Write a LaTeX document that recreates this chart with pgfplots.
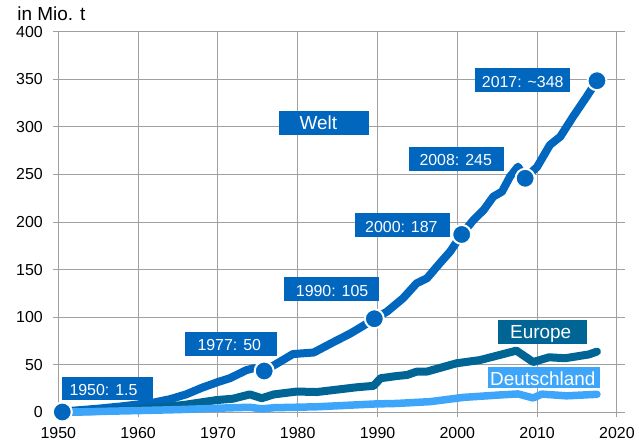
\documentclass[border=0pt]{standalone}
\usepackage{fontspec}
\setmainfont{Liberation Sans}
\usepackage{pgfplots}
\pgfplotsset{compat=1.18}
\definecolor{welt}{RGB}{0,102,190}
\definecolor{europe}{RGB}{0,101,148}
\definecolor{de}{RGB}{62,166,250}
\definecolor{gridc}{RGB}{160,160,160}
\begin{document}
\begin{tikzpicture}[x=1bp,y=1bp]
\path[use as bounding box] (0,0) rectangle (639,443);
\begin{axis}[
  at={(58.3bp,30.5bp)}, anchor=south west,
  width=566.6bp, height=380.8bp, scale only axis,
  xmin=1950, xmax=2021, ymin=0, ymax=400,
  xtick={1950,1960,...,2020}, ytick={0,50,...,400},
  grid=major, major grid style={gridc, line width=1.1bp},
  axis lines=left, axis line style={-, gridc, line width=1.1bp},
  tick align=outside, major tick length=5bp,
  tick style={gridc, line width=1.1bp},
  /pgf/number format/1000 sep={},
  /pgf/number format/assume math mode=true,
  ticklabel style={font=\fontsize{16}{18}\selectfont, text=black},
  yticklabel style={xshift=-7bp},
  xticklabel style={yshift=-6bp},
  clip=false,
]
\addplot[welt, line width=8bp, line cap=round, line join=round] coordinates {
(1950.5,1) (1955,4) (1958,6.5) (1960,8.5) (1962,10.5) (1964,14) (1966,19)
(1968,26) (1970,32) (1971.5,36) (1973.6,44.6) (1974.5,46.5) (1975.8,43.6)
(1977.8,53.4) (1979.4,61.4) (1982,63) (1984.5,74) (1986.6,83) (1988.2,91)
(1989.6,98.5) (1991.2,106) (1993.2,120) (1994.9,135.7) (1996.2,141)
(1997.8,156.7) (1999.1,169) (2000.55,187) (2002,202) (2003.3,212.7)
(2004.5,226.7) (2005.6,232) (2006.6,247.7) (2007.6,258.2) (2008.5,246)
(2010,258) (2011.6,281) (2012.9,289.7) (2014.5,310.7) (2016.2,331.7) (2017.5,348.5)
};
\addplot[europe, line width=8bp, line cap=round, line join=round] coordinates {
(1950.5,0.5) (1955,1.5) (1960,3.5) (1965.7,7.9) (1969.8,13) (1971.9,14.5)
(1974,19) (1975.5,15) (1977,19) (1979.9,22) (1982.4,21.5) (1984.9,24)
(1987.4,26.5) (1989.5,28) (1990.4,36) (1992.4,38.3) (1993.7,39.4)
(1994.9,42.9) (1996.2,43) (1999.9,51.7) (2002.8,55) (2005.3,60.4)
(2007.4,65) (2009.5,53) (2011.5,58) (2013.5,57) (2015,59) (2016.5,61) (2017.5,64)
};
\addplot[de, line width=7.5bp, line cap=round, line join=round] coordinates {
(1950.5,0.3) (1960,2) (1965,3) (1970,4.5) (1974,5.5) (1975.5,3.8) (1977,5)
(1982.4,6) (1989.5,8.9) (1992.4,9.5) (1996.6,11.4) (2000.8,15.9)
(2005.3,18.4) (2007.6,19.5) (2009.5,15.3) (2010.6,19.3) (2013.7,17.5) (2017.5,19.1)
};
\addplot[only marks, mark=*, mark size=9.5bp,
  mark options={fill=welt, draw=white, line width=2bp}] coordinates {
(1950.5,0.5) (1975.8,43.6) (1989.6,98.5) (2000.55,187) (2008.5,246) (2017.5,348.5)
};
\end{axis}
\node[anchor=base west, inner sep=0, font=\fontsize{19}{22}\selectfont] at (17.3,422.3) {in Mio. t};
% labels
\fill[welt] (61.7,43) rectangle (152.7,66.3);
\node[anchor=base west, inner sep=0, text=white, font=\fontsize{16}{18}\selectfont] at (69.3,47.4) {1950: 1.5};
\fill[welt] (185,87.3) rectangle (276.7,111.3);
\node[anchor=base west, inner sep=0, text=white, font=\fontsize{16}{18}\selectfont] at (197.3,92.1) {1977: 50};
\fill[welt] (284,142.3) rectangle (379,165.7);
\node[anchor=base west, inner sep=0, text=white, font=\fontsize{16}{18}\selectfont] at (295.7,146.8) {1990: 105};
\fill[welt] (355,206.3) rectangle (450,229.7);
\node[anchor=base west, inner sep=0, text=white, font=\fontsize{16}{18}\selectfont] at (365,210.8) {2000: 187};
\fill[welt] (409,272.3) rectangle (503.7,296.3);
\node[anchor=base west, inner sep=0, text=white, font=\fontsize{16}{18}\selectfont] at (419.3,277.1) {2008: 245};
\fill[welt] (475,351.3) rectangle (570,374.7);
\node[anchor=base west, inner sep=0, text=white, font=\fontsize{16}{18}\selectfont] at (481.7,355.8) {2017: \textasciitilde348};
\fill[welt] (279,308.3) rectangle (369,332);
\node[anchor=base west, inner sep=0, text=white, font=\fontsize{19}{22}\selectfont] at (299.3,313.4) {Welt};
\fill[europe] (497.7,99.3) rectangle (587,123);
\node[anchor=base west, inner sep=0, text=white, font=\fontsize{19}{22}\selectfont] at (510,104.4) {Europe};
\fill[de] (487.7,54.7) rectangle (600,76.3);
\node[anchor=base west, inner sep=0, text=white, font=\fontsize{19}{22}\selectfont] at (490,57) {Deutschland};
\end{tikzpicture}
\end{document}
